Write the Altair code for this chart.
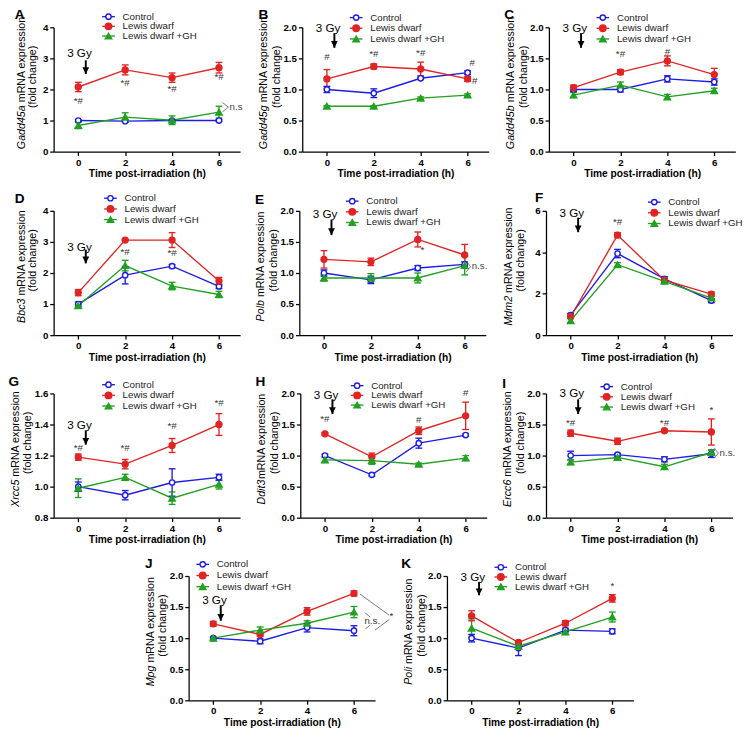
import altair as alt
import pandas as pd

# ---------------- data ----------------
TIMES = [0, 2, 4, 6]
GROUPS = ["Control", "Lewis dwarf", "Lewis dwarf +GH"]
X_TICKS = [0, 2, 4, 6]
X_TITLE = "Time post-irradiation (h)"

gadd45a_control = [1.00, 0.98, 1.00, 1.00]
gadd45a_control_sem = [0.03, 0.03, 0.03, 0.03]
gadd45a_dwarf = [2.08, 2.63, 2.38, 2.70]
gadd45a_dwarf_sem = [0.15, 0.16, 0.15, 0.17]
gadd45a_gh = [0.84, 1.11, 1.01, 1.27]
gadd45a_gh_sem = [0.10, 0.14, 0.14, 0.19]
gadd45a_sig_x = [0, 2, 4, 6]
gadd45a_sig_y = [1.62, 2.22, 2.00, 2.40]
gadd45a_sig_t = ["*#", "*#", "*#", "*#"]

gadd45g_control = [1.00, 0.94, 1.18, 1.27]
gadd45g_control_sem = [0.05, 0.07, 0.02, 0.03]
gadd45g_dwarf = [1.17, 1.37, 1.33, 1.17]
gadd45g_dwarf_sem = [0.15, 0.04, 0.11, 0.04]
gadd45g_gh = [0.73, 0.73, 0.86, 0.91]
gadd45g_gh_sem = [0.01, 0.01, 0.02, 0.02]
gadd45g_sig_x = [0, 2, 4, 6.2, 6.3]
gadd45g_sig_y = [1.52, 1.57, 1.58, 1.42, 1.13]
gadd45g_sig_t = ["#", "*#", "*#", "#", "#"]

gadd45b_control = [1.00, 1.00, 1.17, 1.12]
gadd45b_control_sem = [0.03, 0.04, 0.05, 0.05]
gadd45b_dwarf = [1.03, 1.28, 1.46, 1.24]
gadd45b_dwarf_sem = [0.04, 0.04, 0.08, 0.10]
gadd45b_gh = [0.91, 1.07, 0.88, 0.98]
gadd45b_gh_sem = [0.04, 0.05, 0.04, 0.04]
gadd45b_sig_x = [2, 4]
gadd45b_sig_y = [1.57, 1.60]
gadd45b_sig_t = ["*#", "#"]

bbc3_control = [1.00, 1.93, 2.22, 1.57]
bbc3_control_sem = [0.07, 0.28, 0.05, 0.07]
bbc3_dwarf = [1.37, 3.06, 3.06, 1.74]
bbc3_dwarf_sem = [0.10, 0.02, 0.24, 0.12]
bbc3_gh = [0.95, 2.24, 1.58, 1.31]
bbc3_gh_sem = [0.04, 0.17, 0.12, 0.10]
bbc3_sig_x = [2, 4]
bbc3_sig_y = [2.68, 2.63]
bbc3_sig_t = ["*#", "*#"]

polb_control = [1.00, 0.89, 1.08, 1.14]
polb_control_sem = [0.05, 0.06, 0.04, 0.04]
polb_dwarf = [1.22, 1.18, 1.54, 1.29]
polb_dwarf_sem = [0.14, 0.06, 0.12, 0.17]
polb_gh = [0.92, 0.92, 0.92, 1.12]
polb_gh_sem = [0.05, 0.07, 0.08, 0.15]
polb_sig_x = [4.2]
polb_sig_y = [1.37]
polb_sig_t = ["*"]

mdm2_control = [0.97, 3.94, 2.72, 1.67]
mdm2_control_sem = [0.08, 0.20, 0.10, 0.10]
mdm2_dwarf = [0.89, 4.83, 2.65, 1.98]
mdm2_dwarf_sem = [0.05, 0.12, 0.08, 0.10]
mdm2_gh = [0.70, 3.40, 2.60, 1.79]
mdm2_gh_sem = [0.10, 0.10, 0.10, 0.08]
mdm2_sig_x = [2]
mdm2_sig_y = [5.45]
mdm2_sig_t = ["*#"]

xrcc5_control = [1.00, 0.945, 1.027, 1.06]
xrcc5_control_sem = [0.03, 0.03, 0.088, 0.02]
xrcc5_dwarf = [1.19, 1.145, 1.265, 1.40]
xrcc5_dwarf_sem = [0.02, 0.03, 0.045, 0.07]
xrcc5_gh = [0.99, 1.06, 0.926, 1.015]
xrcc5_gh_sem = [0.06, 0.02, 0.04, 0.03]
xrcc5_sig_x = [0, 2, 4, 6]
xrcc5_sig_y = [1.25, 1.25, 1.39, 1.54]
xrcc5_sig_t = ["*#", "*#", "*#", "*#"]

ddit3_control = [1.00, 0.69, 1.20, 1.33]
ddit3_control_sem = [0.02, 0.02, 0.08, 0.02]
ddit3_dwarf = [1.35, 0.98, 1.40, 1.64]
ddit3_dwarf_sem = [0.02, 0.06, 0.06, 0.22]
ddit3_gh = [0.93, 0.92, 0.86, 0.96]
ddit3_gh_sem = [0.04, 0.06, 0.02, 0.04]
ddit3_sig_x = [0, 4, 6]
ddit3_sig_y = [1.59, 1.57, 2.00]
ddit3_sig_t = ["*#", "#", "#"]

ercc6_control = [1.00, 1.015, 0.94, 1.03]
ercc6_control_sem = [0.07, 0.02, 0.04, 0.06]
ercc6_dwarf = [1.36, 1.23, 1.40, 1.38]
ercc6_dwarf_sem = [0.05, 0.05, 0.02, 0.21]
ercc6_gh = [0.895, 0.97, 0.82, 1.05]
ercc6_gh_sem = [0.04, 0.02, 0.04, 0.04]
ercc6_sig_x = [0, 4, 6]
ercc6_sig_y = [1.52, 1.53, 1.73]
ercc6_sig_t = ["*#", "*#", "*"]

mpg_control = [1.00, 0.95, 1.17, 1.12]
mpg_control_sem = [0.02, 0.04, 0.07, 0.08]
mpg_dwarf = [1.23, 1.06, 1.43, 1.72]
mpg_dwarf_sem = [0.04, 0.03, 0.06, 0.04]
mpg_gh = [1.00, 1.13, 1.24, 1.42]
mpg_gh_sem = [0.01, 0.05, 0.04, 0.09]
mpg_sig_x = [7.6, 6.78]
mpg_sig_y = [1.35, 1.28]
mpg_sig_t = ["*", "n.s."]

poli_control = [1.00, 0.84, 1.13, 1.11]
poli_control_sem = [0.06, 0.12, 0.03, 0.04]
poli_dwarf = [1.36, 0.93, 1.24, 1.64]
poli_dwarf_sem = [0.08, 0.03, 0.04, 0.06]
poli_gh = [1.16, 0.87, 1.10, 1.34]
poli_gh_sem = [0.15, 0.04, 0.04, 0.08]
poli_sig_x = [6]
poli_sig_y = [1.83]
poli_sig_t = ["*"]

# ---------------- styling ----------------
LINE_COLORS = ["#1c1ce6", "#e02424", "#22a022"]
FILL_COLORS = ["#ffffff", "#e02424", "#22a022"]
SHAPES = ["circle", "circle", "triangle-up"]
SIZES = [30, 45, 45]
XDOM = [-1.05, 6.9]
PW, PH = 192, 128
FONT = "Liberation Sans"
ARROW = "M-1,-2L1,-2L0,0Z"

# Arial/Liberation Sans advance widths (per 1000 em)
AW = {" ": 278, "(": 333, ")": 333, "+": 584, "-": 333, ".": 278, "A": 667, "B": 667,
      "C": 722, "D": 722, "E": 667, "G": 778, "H": 722, "M": 833, "N": 722, "P": 667,
      "R": 722, "X": 667, "a": 556, "b": 556, "c": 500, "d": 556, "e": 556, "f": 278,
      "g": 556, "h": 556, "i": 222, "l": 222, "m": 833, "n": 556, "o": 556, "p": 556,
      "r": 333, "s": 500, "t": 278, "w": 722, "x": 500, "y": 500}


def tw(s, size):
    return sum(AW.get(c, 556) for c in s) * size / 1000.0


def panel(p):
    recs = []
    for g, ms, ss in zip(GROUPS, p["means"], p["sems"]):
        for t, m, s in zip(TIMES, ms, ss):
            recs.append({"time": t, "group": g, "mean": m, "lo": m - s, "hi": m + s})
    df = pd.DataFrame(recs)
    xs = alt.Scale(domain=XDOM, nice=False, zero=False)
    ys = alt.Scale(domain=p["ydom"], nice=False, zero=False)
    xax = alt.Axis(values=X_TICKS, title=X_TITLE, format="d")
    yax = alt.Axis(values=p["yticks"], format=p["fmt"], title=None)

    def X(f):
        return alt.X(f, type="quantitative", scale=xs, axis=xax)

    def Y(f):
        return alt.Y(f, type="quantitative", scale=ys, axis=yax)

    col = alt.Color("group:N", scale=alt.Scale(domain=GROUPS, range=LINE_COLORS), legend=None)
    base = alt.Chart(df)
    layers = []
    layers.append(base.mark_line(strokeWidth=1.4).encode(x=X("time"), y=Y("mean"), color=col))
    layers.append(base.mark_rule(strokeWidth=1.4).encode(x=X("time"), y=Y("lo"), y2="hi", color=col))
    layers.append(base.transform_fold(["lo", "hi"], as_=["end", "val"])
                  .mark_point(shape="stroke", size=49, strokeWidth=1.4, filled=False, opacity=1)
                  .encode(x=X("time"), y=Y("val"), color=col))
    layers.append(base.mark_point(filled=True, strokeWidth=1.4, opacity=1, fillOpacity=1).encode(
        x=X("time"), y=Y("mean"),
        shape=alt.Shape("group:N", scale=alt.Scale(domain=GROUPS, range=SHAPES), legend=None),
        fill=alt.Fill("group:N", scale=alt.Scale(domain=GROUPS, range=FILL_COLORS), legend=None),
        stroke=alt.Stroke("group:N", scale=alt.Scale(domain=GROUPS, range=LINE_COLORS), legend=None),
        size=alt.Size("group:N", scale=alt.Scale(domain=GROUPS, range=SIZES), legend=None)))

    # significance marks
    sdf = pd.DataFrame({"x": p["sig"][0], "y": p["sig"][1], "t": p["sig"][2]})
    layers.append(alt.Chart(sdf).mark_text(fontSize=10, color="#333333", font=FONT).encode(
        x=X("x"), y=Y("y"), text="t:N"))

    # n.s. brackets
    if p.get("brackets"):
        rows = []
        for k, seg in enumerate(p["brackets"]):
            for i, (bx, by) in enumerate(seg):
                rows.append({"x": bx, "y": by, "seg": k, "i": i})
        layers.append(alt.Chart(pd.DataFrame(rows)).mark_line(color="#555555", strokeWidth=0.8).encode(
            x=X("x"), y=Y("y"), detail="seg:N", order="i:Q"))
    if p.get("ns"):
        nx, ny, nt = p["ns"]
        layers.append(alt.Chart(pd.DataFrame({"x": [nx], "y": [ny], "t": [nt]})).mark_text(
            fontSize=10, color="#444444", align="left", baseline="middle", font=FONT).encode(
            x=X("x"), y=Y("y"), text="t:N"))

    # 3 Gy arrow
    gy_text_y, a_top, a_tip = p["arrow"]
    adf = pd.DataFrame({"tx": [0.05], "ty": [gy_text_y], "t": ["3 Gy"], "ax": [0.32],
                        "top": [a_top], "tip": [a_tip]})
    ab = alt.Chart(adf)
    layers.append(ab.mark_text(fontSize=12, color="black", font=FONT, baseline="middle").encode(
        x=X("tx"), y=Y("ty"), text="t:N"))
    layers.append(ab.mark_rule(strokeWidth=2, color="black").encode(x=X("ax"), y=Y("top"), y2="tip"))
    layers.append(ab.mark_point(shape=ARROW, size=49, filled=True, color="black", opacity=1).encode(
        x=X("ax"), y=Y("tip")))

    # legend (drawn inside the panel, Prism style)
    lx, ly, sp = p["legend"]
    for i, g in enumerate(GROUPS):
        yy = ly + i * sp
        ld = alt.Chart(pd.DataFrame({"group": [g]}))
        layers.append(ld.mark_rule(strokeWidth=1.4, color=LINE_COLORS[i]).encode(
            x=alt.value(lx), x2=alt.value(lx + 13), y=alt.value(yy)))
        layers.append(ld.mark_point(shape=SHAPES[i], size=SIZES[i], filled=True, fill=FILL_COLORS[i],
                                    stroke=LINE_COLORS[i], strokeWidth=1.4, opacity=1).encode(
            x=alt.value(lx + 6.5), y=alt.value(yy)))
        layers.append(ld.mark_text(align="left", baseline="middle", fontSize=10, color="#222222",
                                   font=FONT).encode(
            x=alt.value(lx + 21), y=alt.value(yy), text="group:N"))

    # y-axis title: italic gene symbol + regular text, second line
    t1x, t2x = p["title_x"]
    gene, rest = p["gene"], p["rest"]
    fs = 11
    gap = tw(" ", fs) if rest.startswith(" ") else 0.5
    rest = rest.strip()
    w1, w2 = tw(gene, fs), tw(rest, fs)
    c1 = PH / 2 - 7
    start = c1 + (w1 + gap + w2) / 2
    td = alt.Chart(pd.DataFrame({"g": [gene], "r": [rest], "f": ["(fold change)"]}))
    layers.append(td.mark_text(angle=270, align="left", baseline="middle", fontSize=fs, fontStyle="italic",
                               color="black", font=FONT).encode(
        x=alt.value(t1x), y=alt.value(start), text="g:N"))
    layers.append(td.mark_text(angle=270, align="left", baseline="middle", fontSize=fs,
                               color="black", font=FONT).encode(
        x=alt.value(t1x), y=alt.value(start - w1 - gap), text="r:N"))
    layers.append(td.mark_text(angle=270, align="center", baseline="middle", fontSize=fs,
                               color="black", font=FONT).encode(
        x=alt.value(t2x), y=alt.value(PH / 2 - 13), text="f:N"))

    # panel letter
    lxx, lyy = p["letter_pos"]
    layers.append(alt.Chart(pd.DataFrame({"l": [p["letter"]]})).mark_text(
        align="center", baseline="middle", fontSize=14, fontWeight="bold", color="black", font=FONT).encode(
        x=alt.value(lxx), y=alt.value(lyy), text="l:N"))

    return alt.layer(*layers).properties(width=PW, height=p.get("h", PH))


def P(letter, gene, rest, means, sems, sig, ydom, yticks, fmt, arrow, legend, letter_pos, title_x, **kw):
    d = dict(letter=letter, gene=gene, rest=rest, means=means, sems=sems, sig=sig, ydom=ydom,
             yticks=yticks, fmt=fmt, arrow=arrow, legend=legend, letter_pos=letter_pos, title_x=title_x)
    d.update(kw)
    return d


T02 = [0, 0.5, 1.0, 1.5, 2.0]
pA = P("A", "Gadd45a", " mRNA expression",
       [gadd45a_control, gadd45a_dwarf, gadd45a_gh], [gadd45a_control_sem, gadd45a_dwarf_sem, gadd45a_gh_sem],
       (gadd45a_sig_x, gadd45a_sig_y, gadd45a_sig_t), [0, 4], [0, 1, 2, 3, 4], "d",
       (3.16, 2.94, 2.5), (50, -11, 10), (-35, -13), (-33, -21),
       brackets=[[(6.15, 1.58), (6.4, 1.43), (6.15, 1.28)]], ns=(6.45, 1.43, "n.s"))
pB = P("B", "Gadd45g", " mRNA expression",
       [gadd45g_control, gadd45g_dwarf, gadd45g_gh], [gadd45g_control_sem, gadd45g_dwarf_sem, gadd45g_gh_sem],
       (gadd45g_sig_x, gadd45g_sig_y, gadd45g_sig_t), [0, 2], T02, ".1f",
       (1.98, 1.906, 1.67), (49, -10, 11), (-40, -13), (-39, -26))
pC = P("C", "Gadd45b", " mRNA expression",
       [gadd45b_control, gadd45b_dwarf, gadd45b_gh], [gadd45b_control_sem, gadd45b_dwarf_sem, gadd45b_gh_sem],
       (gadd45b_sig_x, gadd45b_sig_y, gadd45b_sig_t), [0, 2], T02, ".1f",
       (1.98, 1.906, 1.67), (49, -10, 11), (-41, -13), (-39, -26))
pD = P("D", "Bbc3", " mRNA expression",
       [bbc3_control, bbc3_dwarf, bbc3_gh], [bbc3_control_sem, bbc3_dwarf_sem, bbc3_gh_sem],
       (bbc3_sig_x, bbc3_sig_y, bbc3_sig_t), [0, 4], [0, 1, 2, 3, 4], "d",
       (2.84, 2.75, 2.31), (52, -13, 11), (-35, -12), (-33, -21))
pE = P("E", "Polb", " mRNA expression",
       [polb_control, polb_dwarf, polb_gh], [polb_control_sem, polb_dwarf_sem, polb_gh_sem],
       (polb_sig_x, polb_sig_y, polb_sig_t), [0, 2], T02, ".1f",
       (1.94, 1.86, 1.61), (48, -10, 11), (-41, -11), (-39, -26),
       brackets=[[(6.07, 1.19), (6.25, 1.105), (6.07, 1.02)]], ns=(6.3, 1.105, "n.s."))
pF = P("F", "Mdm2", " mRNA expression",
       [mdm2_control, mdm2_dwarf, mdm2_gh], [mdm2_control_sem, mdm2_dwarf_sem, mdm2_gh_sem],
       (mdm2_sig_x, mdm2_sig_y, mdm2_sig_t), [0, 6], [0, 2, 4, 6], "d",
       (5.9, 5.67, 4.97), (105, -9, 11), (-7, -13), (-38, -26))
pG = P("G", "Xrcc5", " mRNA expression",
       [xrcc5_control, xrcc5_dwarf, xrcc5_gh], [xrcc5_control_sem, xrcc5_dwarf_sem, xrcc5_gh_sem],
       (xrcc5_sig_x, xrcc5_sig_y, xrcc5_sig_t), [0.8, 1.6], [0.8, 1.0, 1.2, 1.4, 1.6], ".1f",
       (1.394, 1.3625, 1.27), (50, -9, 11), (-41, -12), (-39, -26))
pH = P("H", "Ddit3", "mRNA expression",
       [ddit3_control, ddit3_dwarf, ddit3_gh], [ddit3_control_sem, ddit3_dwarf_sem, ddit3_gh_sem],
       (ddit3_sig_x, ddit3_sig_y, ddit3_sig_t), [0, 2], T02, ".1f",
       (1.98, 1.906, 1.67), (52, -8, 10), (-41, -12), (-39, -26))
pI = P("I", "Ercc6", " mRNA expression",
       [ercc6_control, ercc6_dwarf, ercc6_gh], [ercc6_control_sem, ercc6_dwarf_sem, ercc6_gh_sem],
       (ercc6_sig_x, ercc6_sig_y, ercc6_sig_t), [0, 2], T02, ".1f",
       (2.0, 1.906, 1.67), (56, -7, 10.5), (-43, -10), (-39, -26),
       brackets=[[(6.13, 1.12), (6.3, 1.04), (6.13, 0.96)]], ns=(6.35, 1.04, "n.s."))
pJ = P("J", "Mpg", " mRNA expression",
       [mpg_control, mpg_dwarf, mpg_gh], [mpg_control_sem, mpg_dwarf_sem, mpg_gh_sem],
       (mpg_sig_x, mpg_sig_y, mpg_sig_t), [0, 2], T02, ".1f",
       (1.61, 1.53, 1.28), (8, -12, 11.5), (-41, -12), (-39, -26),
       brackets=[[(6.25, 1.71), (7.5, 1.37)], [(7.5, 1.30), (6.9, 1.13)],
                 [(6.46, 1.41), (6.69, 1.34)], [(6.69, 1.21), (6.49, 1.15)]])
pK = P("K", "Poli", " mRNA expression",
       [poli_control, poli_dwarf, poli_gh], [poli_control_sem, poli_dwarf_sem, poli_gh_sem],
       (poli_sig_x, poli_sig_y, poli_sig_t), [0, 2], T02, ".1f",
       (1.98, 1.906, 1.69), (49, -9, 10), (-42, -12), (-39, -26))

spacer = alt.Chart(pd.DataFrame({"a": [0]})).mark_point(opacity=0).encode(
    x=alt.value(0), y=alt.value(0)).properties(width=86, height=1)

row1 = alt.hconcat(panel(pA), panel(pB), panel(pC), spacing=15)
row2 = alt.hconcat(panel(pD), panel(pE), panel(pF), spacing=15)
row3 = alt.hconcat(panel(pG), panel(pH), panel(pI), spacing=15)
row4 = alt.hconcat(spacer, panel(pJ), panel(pK), spacing=7)

chart = alt.vconcat(row1, row2, row3, row4, spacing=12).properties(
    padding={"left": 0, "top": -11, "right": 5, "bottom": 2}).configure(
    font=FONT).configure_view(stroke=None).configure_axis(
    domainColor="black", domainWidth=1.3, tickColor="black", tickWidth=1.3, tickSize=4,
    labelFont=FONT, labelFontWeight="bold", labelFontSize=10, labelColor="black", labelPadding=2,
    titleFont=FONT, titleFontWeight="bold", titleFontSize=10.5, titleColor="black", titlePadding=2,
    grid=False)

chart.save("out.html", embed_options={"renderer": "svg", "actions": False})
